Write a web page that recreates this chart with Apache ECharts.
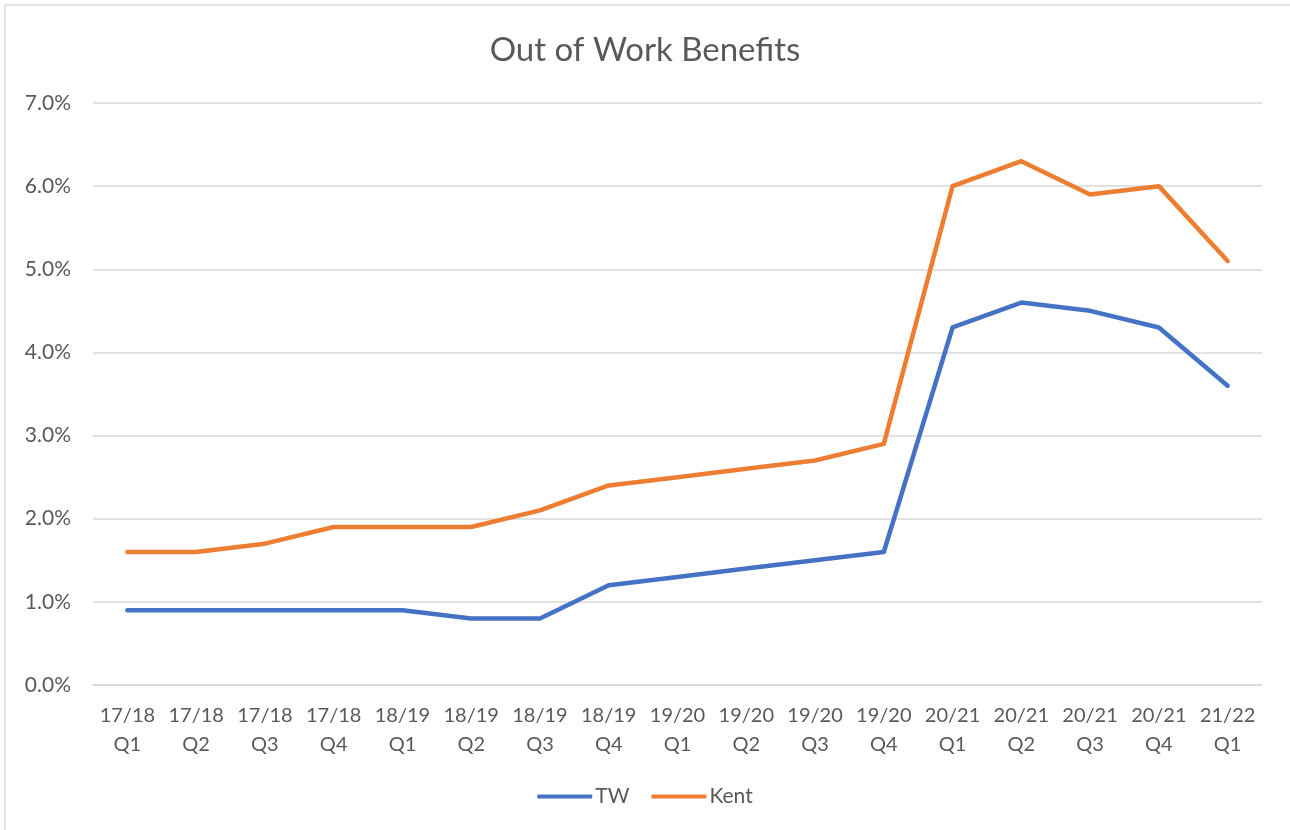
<!DOCTYPE html>
<html>
<head>
<meta charset="utf-8">
<script src="https://cdn.jsdelivr.net/npm/echarts@6/dist/echarts.min.js"></script>
<style>
html,body{margin:0;padding:0;background:#fff;}
#chart{width:1290px;height:830px;}
</style>
</head>
<body>
<div id="chart"></div>
<script>
// quarters along the x axis
var categories = ['17/18\nQ1','17/18\nQ2','17/18\nQ3','17/18\nQ4',
	'18/19\nQ1','18/19\nQ2','18/19\nQ3','18/19\nQ4',
	'19/20\nQ1','19/20\nQ2','19/20\nQ3','19/20\nQ4',
	'20/21\nQ1','20/21\nQ2','20/21\nQ3','20/21\nQ4',
	'21/22\nQ1'];
var twValues = [0.9,0.9,0.9,0.9,0.9,0.8,0.8,1.2,1.3,1.4,1.5,1.6,4.3,4.6,4.5,4.3,3.6];
var kentValues = [1.6,1.6,1.7,1.9,1.9,1.9,2.1,2.4,2.5,2.6,2.7,2.9,6.0,6.3,5.9,6.0,5.1];

var chart = echarts.init(document.getElementById('chart'));
var font = 'Lato, "Open Sans", sans-serif';
chart.setOption({
	animation:false,
	textStyle:{fontFamily:font},
	color:['#4472C4','#ED7D31'],
	graphic:[{
		type:'rect',
		shape:{x:5,y:5,width:1300,height:840},
		style:{fill:'none',stroke:'#d9d9d9',lineWidth:1.5},
		silent:true
	}],
	title:{
		text:'Out of Work Benefits',
		left:'center',
		top:29,
		textStyle:{color:'#595959',fontWeight:'normal',fontSize:33,fontFamily:font}
	},
	legend:{
		data:['TW','Kent'],
		bottom:18,
		left:'center',
		itemWidth:55,
		itemHeight:4,
		itemGap:22,
		icon:'roundRect',
		textStyle:{color:'#595959',fontSize:21,padding:[0,0,0,-2]}
	},
	grid:{left:93,right:28,top:103,bottom:145,containLabel:false},
	xAxis:{
		type:'category',
		data:categories,
		boundaryGap:true,
		axisTick:{show:false},
		axisLine:{lineStyle:{color:'#d9d9d9',width:1.5}},
		axisLabel:{color:'#595959',fontSize:20,lineHeight:29,margin:16,interval:0}
	},
	yAxis:{
		type:'value',
		min:0,
		max:7,
		interval:1,
		axisLine:{show:false},
		axisTick:{show:false},
		splitLine:{lineStyle:{color:'#d9d9d9',width:1.5}},
		axisLabel:{color:'#595959',fontSize:21,margin:22,formatter:function(v){return v.toFixed(1)+'%';}}
	},
	series:[
		{name:'TW',type:'line',data:twValues,symbol:'none',lineStyle:{width:4.5,cap:'round',join:'round'}},
		{name:'Kent',type:'line',data:kentValues,symbol:'none',lineStyle:{width:4.5,cap:'round',join:'round'}}
	]
});
</script>
</body>
</html>
